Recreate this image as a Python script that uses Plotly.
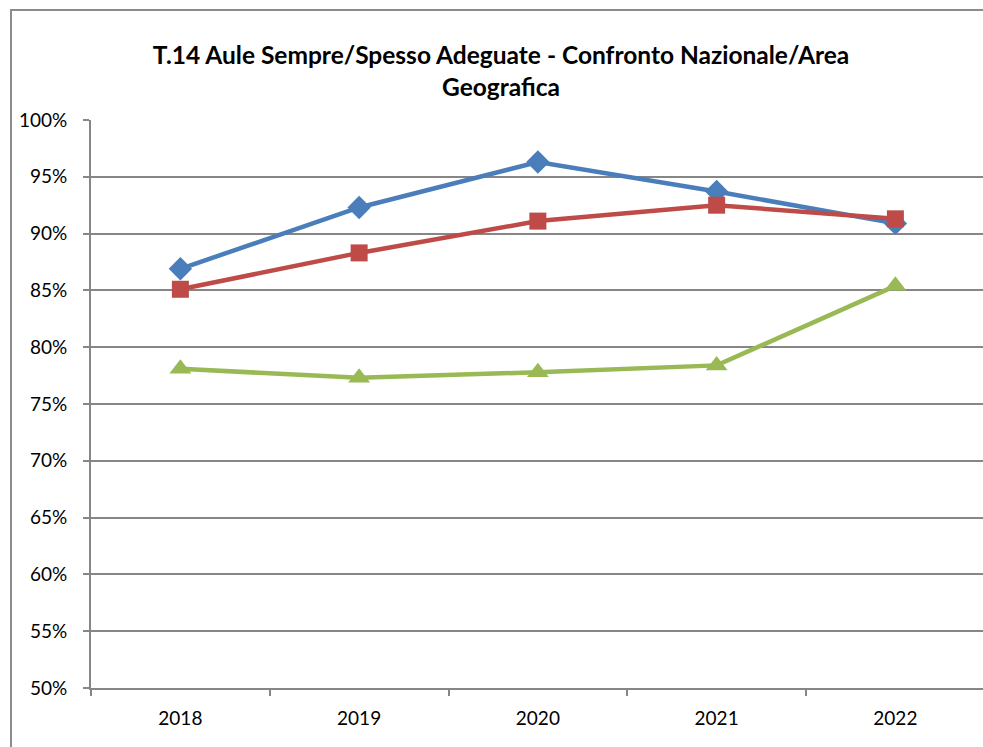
import plotly.graph_objects as go

years = ["2018", "2019", "2020", "2021", "2022"]
serie_blu = [0.869, 0.923, 0.963, 0.937, 0.909]
serie_rossa = [0.851, 0.883, 0.911, 0.925, 0.913]
serie_verde = [0.781, 0.773, 0.778, 0.784, 0.854]
y_ticks = [0.50, 0.55, 0.60, 0.65, 0.70, 0.75, 0.80, 0.85, 0.90, 0.95, 1.00]

W, H = 983, 747
L, R, T, B = 91, 0, 120, 747 - 688
FONT = "Lato, Open Sans, sans-serif"

fig = go.Figure()
specs = [
    (serie_blu, "Nazionale", "#4A7EBB", "diamond", 18),
    (serie_rossa, "Area Geografica", "#BE4B48", "square", 17),
    (serie_verde, "Ateneo", "#98B954", "triangle-up", 19),
]
for vals, name, col, sym, sz in specs:
    fig.add_trace(go.Scatter(
        x=years, y=vals, name=name, mode="lines+markers",
        line=dict(color=col, width=4.5),
        marker=dict(symbol=sym, size=sz, color=col),
    ))

pw = W - L - R
ph = H - T - B
def px_x(p):
    return (p - L) / pw
def px_y(p):
    return (H - B - p) / ph

fig.add_shape(type="rect", xref="paper", yref="paper",
              x0=px_x(11), x1=px_x(1000), y0=px_y(770), y1=px_y(10),
              line=dict(color="#8C8C8C", width=2), layer="below")

fig.update_layout(
    width=W, height=H,
    margin=dict(l=L, r=R, t=T, b=B),
    paper_bgcolor="white", plot_bgcolor="white",
    showlegend=False,
    font=dict(family=FONT, color="black"),
    title=dict(
        text="<b>T.14 Aule Sempre/Spesso Adeguate - Confronto Nazionale/Area<br>Geografica</b>",
        x=501 / W, xanchor="center", y=1 - 64 / H, yanchor="middle",
        font=dict(size=24.5, family=FONT, color="black"),
    ),
)
fig.update_xaxes(
    type="category", range=[-0.5, -0.5 + pw / 178.75],
    tickson="boundaries", ticks="outside", ticklen=6, tickcolor="#868686", tickwidth=1.5,
    showline=True, linecolor="#868686", linewidth=2,
    showgrid=False, tickfont=dict(size=19, family=FONT), ticklabelstandoff=12,
)
fig.update_yaxes(
    range=[0.5, 1.0], tickvals=y_ticks, tickformat=".0%",
    ticks="outside", ticklen=6, tickcolor="#868686", tickwidth=1.5,
    showline=True, linecolor="#868686", linewidth=2,
    showgrid=True, gridcolor="#868686", gridwidth=2,
    zeroline=False, tickfont=dict(size=19, family=FONT), ticklabelstandoff=12,
)

fig.write_html(
    "out.html",
    config={"displayModeBar": False},
    post_script="document.body.style.margin='0';document.body.style.overflow='hidden';",
)
